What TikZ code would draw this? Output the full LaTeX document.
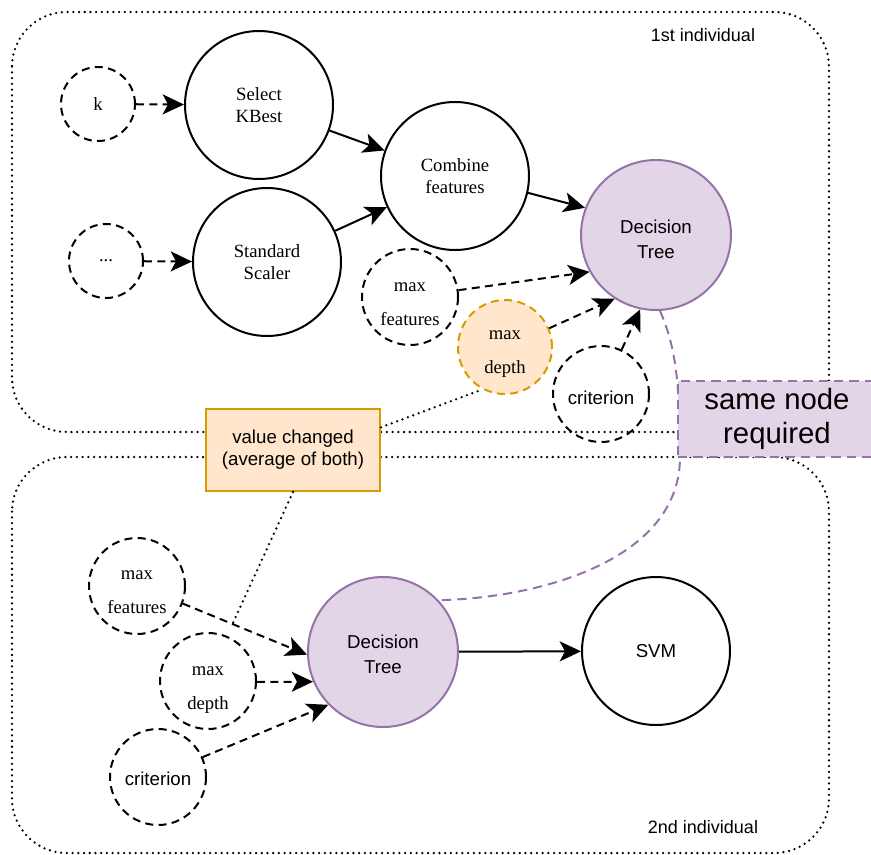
\documentclass[tikz,border=0pt]{standalone}
\usepackage{fontspec}
\setmainfont{Liberation Serif}
\setsansfont{Liberation Sans}
\usetikzlibrary{arrows.meta}
\definecolor{purpleS}{HTML}{9673A6}
\definecolor{purpleF}{HTML}{E1D5E7}
\definecolor{orangeS}{HTML}{D79B00}
\definecolor{orangeF}{HTML}{FFE6CC}
\begin{document}
\begin{tikzpicture}[x=0.75pt,y=-0.75pt,
  container/.style={draw, line width=1.9pt, line cap=round, dash pattern=on 0pt off 4.3pt, rounded corners=41pt},
  dotline/.style={draw, line width=1.9pt, line cap=round, dash pattern=on 0pt off 4.3pt},
  bigc/.style={circle, draw, line width=1.5pt, inner sep=0pt, minimum size=111pt, align=center, font=\fontsize{14pt}{16pt}\selectfont},
  bigsans/.style={bigc, font=\sffamily\fontsize{14pt}{18.5pt}\selectfont},
  smallc/.style={circle, draw, line width=1.5pt, dash pattern=on 6pt off 4pt, inner sep=0pt, minimum size=55.5pt, font=\fontsize{14pt}{16pt}\selectfont},
  paramc/.style={circle, draw, line width=1.5pt, dash pattern=on 6pt off 4pt, inner sep=0pt, minimum size=72pt},
  ptext/.style={inner sep=0pt, align=center, font=\fontsize{14pt}{25.5pt}\selectfont},
  stext/.style={inner sep=0pt, align=center, font=\sffamily\fontsize{14pt}{18.5pt}\selectfont},
  arr/.style={line width=1.5pt, -{Stealth[length=16pt,width=15pt,inset=4pt]}},
  darr/.style={arr, dash pattern=on 6pt off 4pt},
  pcurve/.style={draw=purpleS, line width=1.5pt, dash pattern=on 7pt off 4.5pt},
  lbl/.style={font=\sffamily\fontsize{13.5pt}{16pt}\selectfont, inner sep=0pt}
]
\useasboundingbox (0,0) rectangle (871,854);
\clip (0,0) rectangle (871,854);

% containers
\draw[container] (12,12) rectangle (829,432);
\draw[container] (12,457) rectangle (829,853);
\node[lbl] (lab1) at (703,35) {1st individual};
\node[lbl] (lab2) at (703,827) {2nd individual};

% top nodes
\node[smallc] (k) at (98,104) {k};
\node[bigc] (kbest) at (259,105) {Select\\KBest};
\node[smallc] (dots) at (106,261) {...};
\node[bigc] (scaler) at (267,262) {Standard\\Scaler};
\node[bigc] (combine) at (455,176) {Combine\\features};
\node[bigc, draw=purpleS, fill=purpleF, minimum size=112.5pt] (dt1) at (656,235) {};
\node[stext] (dt1t) at ([yshift=-3pt]dt1.center) {Decision\\Tree};
\node[paramc] (mf1) at (410,297) {};
\node[ptext] (mf1t) at ([yshift=-5.5pt]mf1.center) {max\\features};
\node[paramc, draw=orangeS, fill=orangeF, minimum size=70.5pt] (md1) at (505,347) {};
\node[ptext] (md1t) at ([yshift=-5.5pt]md1.center) {max\\depth};
\node[paramc] (cr1) at (601,394) {};
\node[stext] (cr1t) at ([yshift=-3pt]cr1.center) {criterion};

% bottom nodes
\node[bigc, draw=purpleS, fill=purpleF, minimum size=112.5pt] (dt2) at (383,652) {};
\node[stext] (dt2t) at ([yshift=-1.5pt]dt2.center) {Decision\\Tree};
\node[bigsans] (svm) at (656,651) {SVM};
\node[paramc] (mf2) at (137,586) {};
\node[ptext] (mf2t) at ([yshift=-5pt]mf2.center) {max\\features};
\node[paramc] (md2) at (208,681) {};
\node[ptext] (md2t) at ([yshift=-7pt]md2.center) {max\\depth};
\node[paramc] (cr2) at (158,777) {};
\node[stext] (cr2t) at ([yshift=-1.5pt]cr2.center) {criterion};

% purple dashed connection
\draw[pcurve] (dt1.-87) .. controls (675,345) and (680,380) .. (680,457)
  .. controls (680,560) and (540,598) .. (dt2.43);

% boxes
\node[draw=orangeS, fill=orangeF, line width=1.5pt, minimum width=130.5pt, minimum height=61.5pt, inner sep=0pt, align=center, font=\sffamily\fontsize{14pt}{16.5pt}\selectfont] (val) at (293,450) {value changed\\(average of both)};
\node[draw=purpleS, fill=purpleF, line width=1.5pt, dash pattern=on 7pt off 4.5pt, minimum width=148.5pt, minimum height=57pt, inner sep=0pt, align=center, font=\sffamily\fontsize{22pt}{25.5pt}\selectfont] (same) at (777,419) {same node\\required};

% top arrows
\draw[darr] (k) -- (kbest);
\draw[darr] (dots) -- (scaler);
\draw[arr] (kbest) -- (combine);
\draw[arr] (scaler) -- (combine);
\draw[arr] (combine.-13) -- (dt1.159);
\draw[darr] (mf1.8) -- (dt1.209);
\draw[darr] (md1.23) -- (dt1.237);
\draw[darr] (cr1.65) -- (dt1.258);

% bottom arrows
\draw[darr] (mf2.-21) -- coordinate[pos=0.4] (mfmid) (dt2.182);
\draw[darr] (md2.-1) -- (dt2.203);
\draw[darr] (cr2.24) -- (dt2.224);
\draw[arr] (dt2) -- (svm);

% dotted links from the value box
\draw[dotline] ([yshift=17pt]val.east) -- (md1.242);
\draw[dotline] (val.south) -- (mfmid);
\end{tikzpicture}
\end{document}
